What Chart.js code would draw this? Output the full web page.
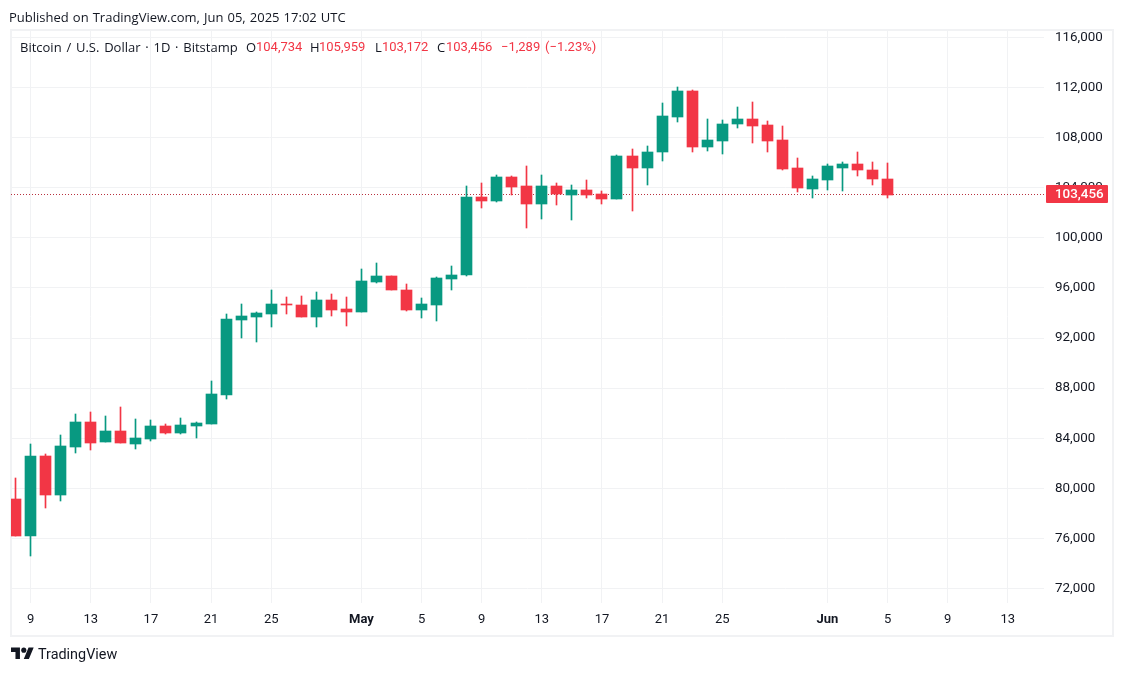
<!DOCTYPE html>
<html>
<head>
<meta charset="utf-8">
<script src="https://cdn.jsdelivr.net/npm/chart.js@4"></script>
<style>
html,body{margin:0;padding:0;background:#fff;width:1123px;height:674px;overflow:hidden}
#wrap{position:relative;width:1123px;height:674px;font-family:"Open Sans",sans-serif;color:#131722}
#frame{position:absolute;left:10px;top:29px;width:1100px;height:604px;border:2px solid #f1f2f4}
canvas{position:absolute;left:0;top:0}
.t{position:absolute;white-space:nowrap;font-size:13px;line-height:16px}
.r{color:#F23645;font-family:Roboto,sans-serif}
#logo{position:absolute;left:11px;top:645px}
</style>
</head>
<body>
<div id="wrap">
  <div id="frame"></div>
  <canvas id="c" width="1123" height="674"></canvas>
  <span class="t" style="left:9px;top:9px;word-spacing:.7px">Published on TradingView.com, Jun 05, 2025 17:02 UTC</span>
  <span class="t" style="left:20px;top:39px;word-spacing:1.4px">Bitcoin / U.S. Dollar · 1D · Bitstamp</span>
  <span class="t" style="left:246px;top:39px">O</span><span class="t r" style="left:256px;top:39px">104,734</span>
  <span class="t" style="left:310px;top:39px">H</span><span class="t r" style="left:319px;top:39px">105,959</span>
  <span class="t" style="left:375px;top:39px">L</span><span class="t r" style="left:382px;top:39px">103,172</span>
  <span class="t" style="left:437px;top:39px">C</span><span class="t r" style="left:446px;top:39px">103,456</span>
  <span class="t r" style="left:501px;top:39px">−1,289</span><span class="t r" style="left:545px;top:39px">(−1.23%)</span>
  <svg id="logo" width="23" height="18" viewBox="0 0 36 28"><path fill="#131722" d="M14 22H7V11H0V4h14v18zM28 22h-8l7.5-18h8L28 22z"/><circle fill="#131722" cx="20" cy="8" r="4"/></svg>
  <span class="t" style="left:38px;top:646px;font-size:14.4px;line-height:18px;font-family:Roboto,sans-serif">TradingView</span>
</div>
<script>
const opens  = [79146,76213,82586,79467,83306,85306,83707,84587,83546,83946,84986,84400,84986,85146,87466,93466,93706,93946,94747,94667,93706,95066,94346,94106,96507,96987,95867,94266,94667,96747,97040,103280,102960,104880,104160,102720,104160,103440,103840,103520,103120,106560,105600,106827,109627,111707,107227,107707,109067,109467,108987,107787,105547,103867,104587,105547,105867,105387,104734];
const highs  = [80826,83520,82746,84267,85946,86080,85787,86507,85546,85466,85146,85626,85306,88587,93947,94747,94106,95866,95306,95387,95706,95547,95306,97547,98027,96987,96347,95226,96907,97787,104160,104400,105040,104960,105760,105040,104400,104240,104640,103760,106640,107120,107360,110747,112027,111787,109467,109387,110427,110827,109307,108907,106347,104907,105867,106027,106827,106027,105959];
const lows   = [76200,74610,78453,79013,82853,83093,83707,83627,83146,83786,84347,84347,84026,85146,87146,92026,91706,92906,93946,93706,92906,93786,92986,94106,96427,95867,94186,93626,93386,95867,96960,102400,102880,103440,100800,101520,102640,101440,103200,102720,103120,102160,104240,106107,109227,106827,106907,106667,108747,107547,106827,105387,103627,103147,103787,103707,104907,104187,103172];
const closes = [76213,82586,79467,83387,85306,83627,84587,83627,84026,84986,84426,85066,85226,87547,93547,93786,94026,94747,94700,93706,95066,94266,94106,96587,96987,95867,94266,94747,96827,97067,103280,102960,104880,104080,102720,104160,103520,103840,103440,103120,106560,105600,106880,109707,111707,107227,107787,109067,109467,108907,107707,105467,103947,104667,105707,105867,105387,104667,103456];
const tickDays   = [1,5,9,13,17,23,27,31,35,39,43,47,54,58,62,66];
const tickLabels = ['9','13','17','21','25','May','5','9','13','17','21','25','Jun','5','9','13'];
const priceTicks = [116000,112000,108000,104000,100000,96000,92000,88000,84000,80000,76000,72000];
const lastPrice  = 103456;
const lastLabel  = '103,456';
const boldLabels = ['May','Jun'];

const UP = '#089981', DOWN = '#F23645', GRID = '#f1f2f4', DOTS = '#B8323F';
const isUp = closes.map((c,i)=>c>=opens[i]);
const colors = isUp.map(u=>u?UP:DOWN);
const bodies = closes.map((c,i)=>({x:i,y:[Math.min(opens[i],c),Math.max(opens[i],c)]}));
const wicks  = highs.map((h,i)=>({x:i,y:[lows[i],h]}));
const X_MIN = -0.30596, X_MAX = 68.403;

const snapPlugin = {
  id:'snap',
  beforeDatasetsDraw(chart){
    chart.data.datasets.forEach((ds,di)=>{
      const meta = chart.getDatasetMeta(di);
      if(ds.type==='line'){
        meta.data.forEach(p=>{p.y=Math.floor(p.y)+0.5;});
        return;
      }
      meta.data.forEach(el=>{
        el.x=Math.floor(el.x)+0.5;
        el.y=Math.round(el.y);
        el.base=Math.round(el.base);
        if(Math.abs(el.base-el.y)<1) el.base=el.y+1;
      });
    });
  }
};
const tagPlugin = {
  id:'tag',
  afterDraw(chart){
    const y = Math.floor(chart.scales.y.getPixelForValue(lastPrice));
    const ctx = chart.ctx;
    ctx.save();
    ctx.fillStyle = DOWN;
    ctx.beginPath();
    ctx.roundRect(1046,y-9,62,18,1);
    ctx.fill();
    ctx.fillStyle = '#fff';
    ctx.font = '500 13.4px Roboto, sans-serif';
    ctx.textBaseline = 'middle';
    ctx.textAlign = 'left';
    ctx.fillText(lastLabel,1055,y+1);
    ctx.restore();
  }
};

new Chart(document.getElementById('c'),{
  type:'bar',
  data:{datasets:[
    {type:'line',data:[{x:X_MIN,y:lastPrice},{x:X_MAX,y:lastPrice}],borderColor:DOTS,borderWidth:1,borderDash:[1,2],pointRadius:0,order:3},
    {data:wicks,backgroundColor:colors,barThickness:1,grouped:false,order:2},
    {data:bodies,backgroundColor:colors,barThickness:11,grouped:false,order:1}
  ]},
  options:{
    responsive:false,animation:false,
    layout:{padding:{left:11,top:30,right:0,bottom:39}},
    plugins:{legend:{display:false},tooltip:{enabled:false}},
    scales:{
      x:{type:'linear',min:X_MIN,max:X_MAX,offset:false,
        afterBuildTicks(s){s.ticks=tickDays.map(v=>({value:v}));},
        afterFit(s){s.height=32;},
        grid:{color:GRID,drawTicks:false,offset:false},border:{display:false},
        ticks:{autoSkip:false,maxRotation:0,padding:9,color:'#131722',
          callback:(v)=>tickLabels[tickDays.indexOf(v)],
          font:c=>({family:'Roboto, sans-serif',size:13,weight:(c.tick&&boldLabels.includes(c.tick.label))?'bold':'normal'})}
      },
      y:{type:'linear',position:'right',min:70842,max:116599,
        afterBuildTicks(s){s.ticks=priceTicks.map(v=>({value:v}));},
        afterFit(s){s.width=79;},
        grid:{color:GRID,drawTicks:false},border:{display:false},
        ticks:{autoSkip:false,padding:11,color:'#131722',
          callback:v=>v.toLocaleString('en-US'),
          font:{family:'Roboto, sans-serif',size:13.4}}
      }
    }
  },
  plugins:[snapPlugin,tagPlugin]
});
</script>
</body>
</html>
